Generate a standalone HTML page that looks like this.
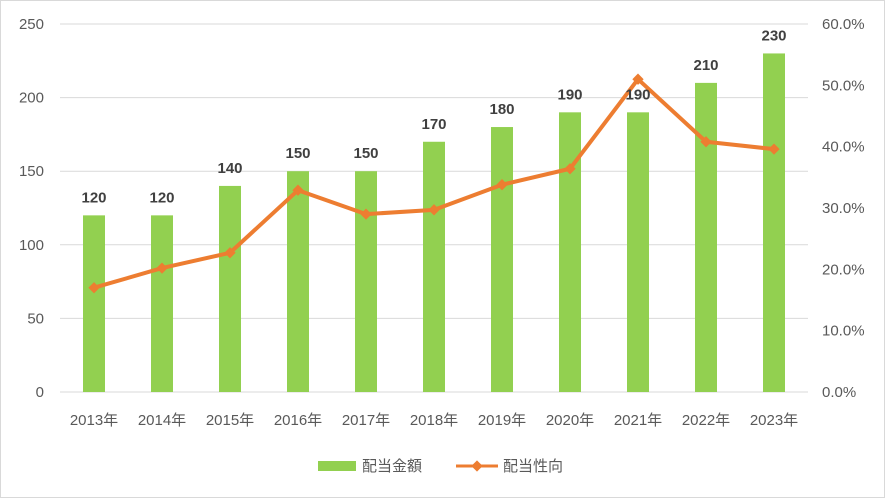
<!DOCTYPE html>
<html><head><meta charset="utf-8"><style>
body{margin:0;background:#fff}
svg{display:block;font-family:"Liberation Sans","Noto Sans CJK JP",sans-serif}
</style></head><body>
<svg id="chart" width="885" height="498">
<rect x="0.5" y="0.5" width="884" height="497" fill="#fff" stroke="#d9d9d9"/>
<g id="grid"></g><g id="bars"></g><g id="line"></g><g id="labels"></g>
<g>
<rect x="318" y="461" width="38" height="10" fill="#92d050"/>
<text x="362" y="471" font-size="15" fill="#595959">配当金額</text>
<line x1="456" y1="466" x2="498" y2="466" stroke="#ed7d31" stroke-width="3"/>
<rect x="473" y="462" width="8" height="8" fill="#ed7d31" transform="rotate(45 477 466)"/>
<text x="503" y="471" font-size="15" fill="#595959">配当性向</text>
</g>
</svg>
<script>
const categories=["2013年","2014年","2015年","2016年","2017年","2018年","2019年","2020年","2021年","2022年","2023年"];
const amounts=[120,120,140,150,150,170,180,190,190,210,230];
const payout=[17.0,20.2,22.7,32.9,29.0,29.7,33.8,36.4,51.0,40.8,39.6];
const leftTicks=[0,50,100,150,200,250];
const rightTicks=[0,10,20,30,40,50,60];
const NS="http://www.w3.org/2000/svg";
const x0=60,x1=808,y0=392,y1=24;
const bw=(x1-x0)/categories.length;
const xc=i=>x0+bw*(i+0.5);
const yL=v=>y0-(v/250)*(y0-y1);
const yR=v=>y0-(v/60)*(y0-y1);
function mk(t,a,p,txt){const e=document.createElementNS(NS,t);for(const k in a)e.setAttribute(k,a[k]);if(txt!==undefined)e.textContent=txt;p.appendChild(e);return e;}
const g=document.getElementById('grid');
leftTicks.forEach(v=>{
 const l=mk('line',{x1:x0,x2:x1,y1:yL(v),y2:yL(v),stroke:'#d9d9d9','stroke-width':1},g);
 
 
 const t=mk('text',{x:44,y:yL(v)+5,'font-size':15,fill:'#595959','text-anchor':'end'},g,v);
 
 
});
rightTicks.forEach(v=>{
 const t=mk('text',{x:822,y:yR(v)+5,'font-size':15,fill:'#595959'},g,v.toFixed(1)+'%');
 
 
});
categories.forEach((c,i)=>{
 const t=mk('text',{x:xc(i),y:425,'font-size':15,fill:'#595959','text-anchor':'middle'},g,c);
 
 
});
const b=document.getElementById('bars'),lb=document.getElementById('labels');
amounts.forEach((v,i)=>{
 const r=mk('rect',{x:xc(i)-11,y:yL(v),width:22,height:y0-yL(v),fill:'#92d050'},b);
 
 
 const t=mk('text',{x:xc(i),y:yL(v)-13,'font-size':15,'font-weight':'bold',fill:'#404040','text-anchor':'middle'},lb,v);
 
 
});
const ln=document.getElementById('line');
const p=mk('polyline',{points:payout.map((v,i)=>xc(i)+','+yR(v)).join(' '),fill:'none',stroke:'#ed7d31','stroke-width':4,'stroke-linejoin':'round'},ln);


payout.forEach((v,i)=>{
 const m=mk('rect',{x:xc(i)-4,y:yR(v)-4,width:8,height:8,fill:'#ed7d31',transform:`rotate(45 ${xc(i)} ${yR(v)})`},ln);
 
 
});
</script>
</body></html>
